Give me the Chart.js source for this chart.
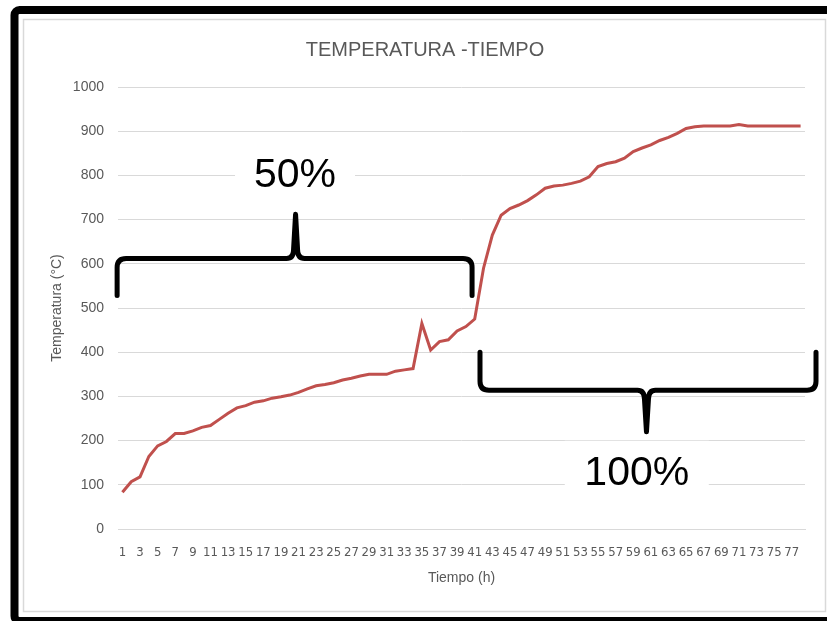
<!DOCTYPE html>
<html>
<head>
<meta charset="utf-8">
<title>Temperatura - Tiempo</title>
<script src="https://cdn.jsdelivr.net/npm/chart.js@4"></script>
<style>
  html, body { margin: 0; padding: 0; background: #fff; }
  canvas { display: block; }
</style>
</head>
<body>
<canvas id="tempChart" width="827" height="621"></canvas>
<script>
// Hours (category labels)
const horas = [
    '1', '2', '3', '4', '5', '6', '7', '8', '9', '10',
    '11', '12', '13', '14', '15', '16', '17', '18', '19', '20',
    '21', '22', '23', '24', '25', '26', '27', '28', '29', '30',
    '31', '32', '33', '34', '35', '36', '37', '38', '39', '40',
    '41', '42', '43', '44', '45', '46', '47', '48', '49', '50',
    '51', '52', '53', '54', '55', '56', '57', '58', '59', '60',
    '61', '62', '63', '64', '65', '66', '67', '68', '69', '70',
    '71', '72', '73', '74', '75', '76', '77', '78'
];

// Temperature readings (°C)
const temperatura = [
    83, 107, 118, 164, 188, 198, 216, 216, 222, 230,
    234, 248, 262, 274, 279, 287, 290, 296, 299, 303,
    309, 317, 324, 327, 331, 337, 341, 346, 350, 350,
    350, 357, 360, 363, 465, 405, 424, 428, 448, 458,
    475, 590, 665, 710, 725, 733, 743, 756, 771, 776,
    778, 782, 787, 797, 820, 827, 831, 839, 854, 862,
    869, 879, 886, 895, 906, 910, 912, 912, 912, 912,
    915, 912, 912, 912, 912, 912, 912, 912
];

const yMin = 0;
const yMax = 1000;
const yStep = 100;

const titulo = 'TEMPERATURA -TIEMPO';
const grey = '#595959';

// Border of the sheet and the chart title
const framePlugin = {
    id: 'frame',
    beforeDraw(chart) {
        const ctx = chart.ctx;
        ctx.save();
        ctx.fillStyle = '#fff';
        ctx.fillRect(0, 0, chart.width, chart.height);
        ctx.strokeStyle = '#d9d9d9';
        ctx.lineWidth = 1.5;
        ctx.strokeRect(23.5, 19.5, 802, 592);
        ctx.strokeStyle = '#000';
        ctx.lineWidth = 8;
        ctx.beginPath();
        ctx.roundRect(14.5, 10, 830, 611, 5);
        ctx.stroke();
        ctx.fillStyle = grey;
        ctx.font = '20px "Liberation Sans", Arial, sans-serif';
        ctx.textAlign = 'center';
        ctx.textBaseline = 'middle';
        ctx.fillText(titulo, 425, 50);
        ctx.restore();
    }
};

// Curly brace: ends at yEnd, bar at yBar, spike reaching yTip
function drawBrace(ctx, x1, x2, yEnd, yBar, xTip, yTip) {
    const r = 9;
    const dir = Math.sign(yEnd - yBar);
    ctx.beginPath();
    ctx.moveTo(x1, yEnd);
    ctx.lineTo(x1, yBar + dir * r);
    ctx.quadraticCurveTo(x1, yBar, x1 + r, yBar);
    ctx.lineTo(xTip - r, yBar);
    ctx.quadraticCurveTo(xTip - 2, yBar, xTip - 2, yBar - dir * r);
    ctx.lineTo(xTip, yTip);
    ctx.lineTo(xTip + 2, yBar - dir * r);
    ctx.quadraticCurveTo(xTip + 2, yBar, xTip + r, yBar);
    ctx.lineTo(x2 - r, yBar);
    ctx.quadraticCurveTo(x2, yBar, x2, yBar + dir * r);
    ctx.lineTo(x2, yEnd);
    ctx.stroke();
}

function drawLabel(ctx, text, cx, cy, w, h) {
    ctx.fillStyle = '#fff';
    ctx.fillRect(cx - w / 2, cy - h / 2, w, h);
    ctx.fillStyle = '#000';
    ctx.font = '41px "Liberation Sans", Arial, sans-serif';
    ctx.textAlign = 'center';
    ctx.textBaseline = 'middle';
    ctx.fillText(text, cx, cy);
}

// Phase markers: 50% and 100%
const bracePlugin = {
    id: 'braces',
    afterDatasetsDraw(chart) {
        const ctx = chart.ctx;
        const x = chart.scales.x;
        const y = chart.scales.y;
        ctx.save();
        ctx.strokeStyle = '#000';
        ctx.lineWidth = 5;
        ctx.lineJoin = 'round';
        ctx.lineCap = 'round';
        drawBrace(ctx,
            x.getPixelForValue(-0.6), x.getPixelForValue(39.7),
            y.getPixelForValue(528), y.getPixelForValue(612),
            x.getPixelForValue(19.66), y.getPixelForValue(712));
        drawBrace(ctx,
            x.getPixelForValue(40.6), x.getPixelForValue(78.75),
            y.getPixelForValue(400), y.getPixelForValue(314),
            x.getPixelForValue(59.5), y.getPixelForValue(220));
        drawLabel(ctx, '50%', x.getPixelForValue(19.6), y.getPixelForValue(800), 120, 58);
        drawLabel(ctx, '100%', x.getPixelForValue(58.4), y.getPixelForValue(125), 144, 66);
        ctx.restore();
    }
};

new Chart(document.getElementById('tempChart').getContext('2d'), {
    type: 'line',
    data: {
        labels: horas,
        datasets: [{
            label: 'Temperatura',
            data: temperatura,
            borderColor: '#c0504d',
            borderWidth: 3,
            pointRadius: 0,
            tension: 0,
            fill: false
        }]
    },
    options: {
        responsive: false,
        animation: false,
        layout: { padding: { left: 23, right: 22, top: 87, bottom: 10 } },
        plugins: {
            legend: { display: false },
            title: { display: false },
            tooltip: { enabled: false }
        },
        scales: {
            x: {
                offset: true,
                afterFit: s => { s.height = 82; },
                grid: { display: false },
                border: { display: true, color: '#d9d9d9', width: 1 },
                ticks: {
                    autoSkip: false,
                    maxRotation: 0,
                    padding: 8,
                    color: grey,
                    font: { family: '"Liberation Sans Narrow", "DejaVu Sans Condensed", sans-serif', size: 13 },
                    callback: (v, i) => (i % 2 === 0 ? horas[i] : '')
                },
                title: {
                    display: true,
                    text: 'Tiempo (h)',
                    color: grey,
                    font: { family: '"Liberation Sans", Arial, sans-serif', size: 14 },
                    padding: { top: 0, bottom: 24 }
                }
            },
            y: {
                min: yMin,
                max: yMax,
                afterFit: s => { s.width = 95; },
                grid: { color: '#d9d9d9', lineWidth: 1, drawTicks: false },
                border: { display: false },
                ticks: {
                    stepSize: yStep,
                    padding: 14,
                    color: grey,
                    font: { family: '"Liberation Sans", Arial, sans-serif', size: 14 },
                    callback: v => String(v)
                },
                title: {
                    display: true,
                    text: 'Temperatura (°C)',
                    color: grey,
                    font: { family: '"Liberation Sans", Arial, sans-serif', size: 14 },
                    padding: { top: 26, bottom: 0 }
                }
            }
        }
    },
    plugins: [framePlugin, bracePlugin]
});
</script>
</body>
</html>
